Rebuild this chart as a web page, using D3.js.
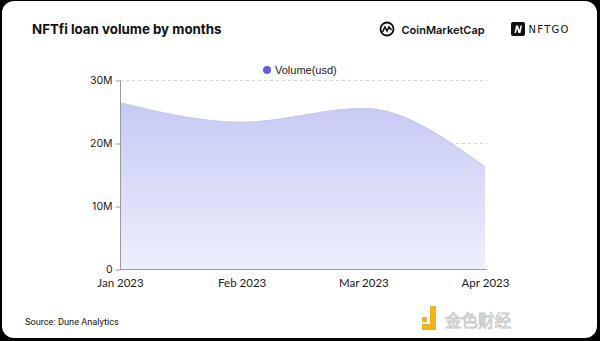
<!DOCTYPE html>
<html><head><meta charset="utf-8">
<script src="https://cdn.jsdelivr.net/npm/d3@7"></script>
<style>html,body{margin:0;padding:0;background:#000;}svg{display:block;}</style>
</head><body>
<script>
const months = ["Jan 2023","Feb 2023","Mar 2023","Apr 2023"];
const volume = [26.4e6, 23.3e6, 25.5e6, 16.2e6];
const yTicks = [0, 10e6, 20e6, 30e6];
const yTickLabels = ["0","10M","20M","30M"];
const seriesName = "Volume(usd)";

const W = 600, H = 341;
const svg = d3.select("body").append("svg").attr("width", W).attr("height", H);
svg.append("rect").attr("width", W).attr("height", H).attr("fill", "#000");
svg.append("rect").attr("x", 2).attr("y", 1).attr("width", 595).attr("height", 337).attr("rx", 12).attr("fill", "#fff");

const defs = svg.append("defs");
const grad = defs.append("linearGradient").attr("id","g").attr("x1",0).attr("y1",0).attr("x2",0).attr("y2",1);
grad.append("stop").attr("offset","0%").attr("stop-color","#c6c9f5");
grad.append("stop").attr("offset","100%").attr("stop-color","#eeeffc");

const x = d3.scalePoint().domain(months).range([120, 485]);
const y = d3.scaleLinear().domain([0, 30e6]).range([269, 80]);

// grid
svg.append("g").selectAll("line").data(yTicks.slice(1)).join("line")
  .attr("x1",120).attr("x2",487).attr("y1",d=>y(d)+0.5).attr("y2",d=>y(d)+0.5)
  .attr("stroke","#d6d6d6").attr("stroke-dasharray","3,3");

const data = months.map((m,i)=>({m, v: volume[i]}));
const area = d3.area().x(d=>x(d.m)).y0(y(0)).y1(d=>y(d.v)).curve(d3.curveMonotoneX);
svg.append("path").datum(data).attr("d", area).attr("fill","url(#g)");
const line = d3.line().x(d=>x(d.m)).y(d=>y(d.v)).curve(d3.curveMonotoneX);
svg.append("path").datum(data).attr("d", line).attr("fill","none").attr("stroke","#c3c6f2").attr("stroke-width",1);

// axes
const yAxis = d3.axisLeft(y).tickValues(yTicks).tickFormat((d,i)=>yTickLabels[i]).tickSize(5).tickPadding(3);
const gy = svg.append("g").attr("transform","translate(120.5,0.5)").call(yAxis);
gy.select(".domain").attr("stroke","#9a9a9a").attr("d","M0,"+(y(30e6))+"V"+y(0));
gy.selectAll(".tick line").attr("stroke","#9a9a9a");
gy.selectAll("text").attr("fill","#222").style("font-family","Inter, 'Noto Sans', sans-serif").style("font-size","10.5px");

const xAxis = d3.axisBottom(x).tickSize(0).tickPadding(9);
const gx = svg.append("g").attr("transform","translate(0,269.5)").call(xAxis);
gx.select(".domain").attr("stroke","#9a9a9a").attr("d","M120,0H487");
gx.selectAll("text").attr("fill","#222").style("font-family","Lato, sans-serif").style("font-size","11.5px");

// legend
svg.append("circle").attr("cx",267).attr("cy",70).attr("r",4).attr("fill","#5b62e4");
svg.append("text").attr("x",275).attr("y",74).text(seriesName)
  .style("font-family","'Liberation Sans', Arial, sans-serif").style("font-size","11px").attr("fill","#222");

// title
svg.append("text").attr("x",32).attr("y",34).text("NFTfi loan volume by months")
  .style("font-family","Inter, sans-serif").style("font-weight","700").style("font-size","13.3px").attr("fill","#111");

// CoinMarketCap logo
const cmc = svg.append("g");
cmc.append("circle").attr("cx",387).attr("cy",29).attr("r",6.5).attr("fill","none").attr("stroke","#111").attr("stroke-width",1.8);
cmc.append("path").attr("d","M382.5,32 L385,27 L387,31 L389,27 L391.5,30").attr("fill","none").attr("stroke","#111").attr("stroke-width",1.6);
cmc.append("text").attr("x",401.5).attr("y",33.5).text("CoinMarketCap")
  .style("font-family","Inter, sans-serif").style("font-weight","600").style("font-size","11px").attr("fill","#111");

// NFTGO logo
const ng = svg.append("g");
ng.append("rect").attr("x",511).attr("y",22).attr("width",14).attr("height",14).attr("rx",2).attr("fill","#111");
ng.append("path").attr("d","M514.5,33 L516,25.5 L518,25.5 L519.5,30 L520.5,25.5 L522,25.5 L520.5,33 L518.5,33 L517,28.5 L516,33 Z").attr("fill","#fff");
ng.append("text").attr("x",528.5).attr("y",33).text("NFTGO")
  .style("font-family","'DejaVu Sans', sans-serif").style("font-size","10px").style("letter-spacing","1.3px").attr("fill","#111");

// source
svg.append("text").attr("x",25).attr("y",325).text("Source: Dune Analytics")
  .style("font-family","Roboto, 'Noto Sans', sans-serif").style("font-size","9.2px").attr("fill","#111");

// 金色财经 watermark
const jw = svg.append("g");
jw.append("rect").attr("x",422).attr("y",317).attr("width",5).attr("height",5).attr("rx",1).attr("fill","#f1b21a");
jw.append("path").attr("d","M430,306 H436 V330 H422 V324 H430 Z").attr("fill","#f1b21a");
jw.append("text").attr("x",445).attr("y",327).text("金色财经")
  .style("font-family","'Noto Sans CJK SC', sans-serif").style("font-size","16.5px").attr("fill","#fff")
  .attr("stroke","#c9c9c9").attr("stroke-width",0.9);
</script>
</body></html>
